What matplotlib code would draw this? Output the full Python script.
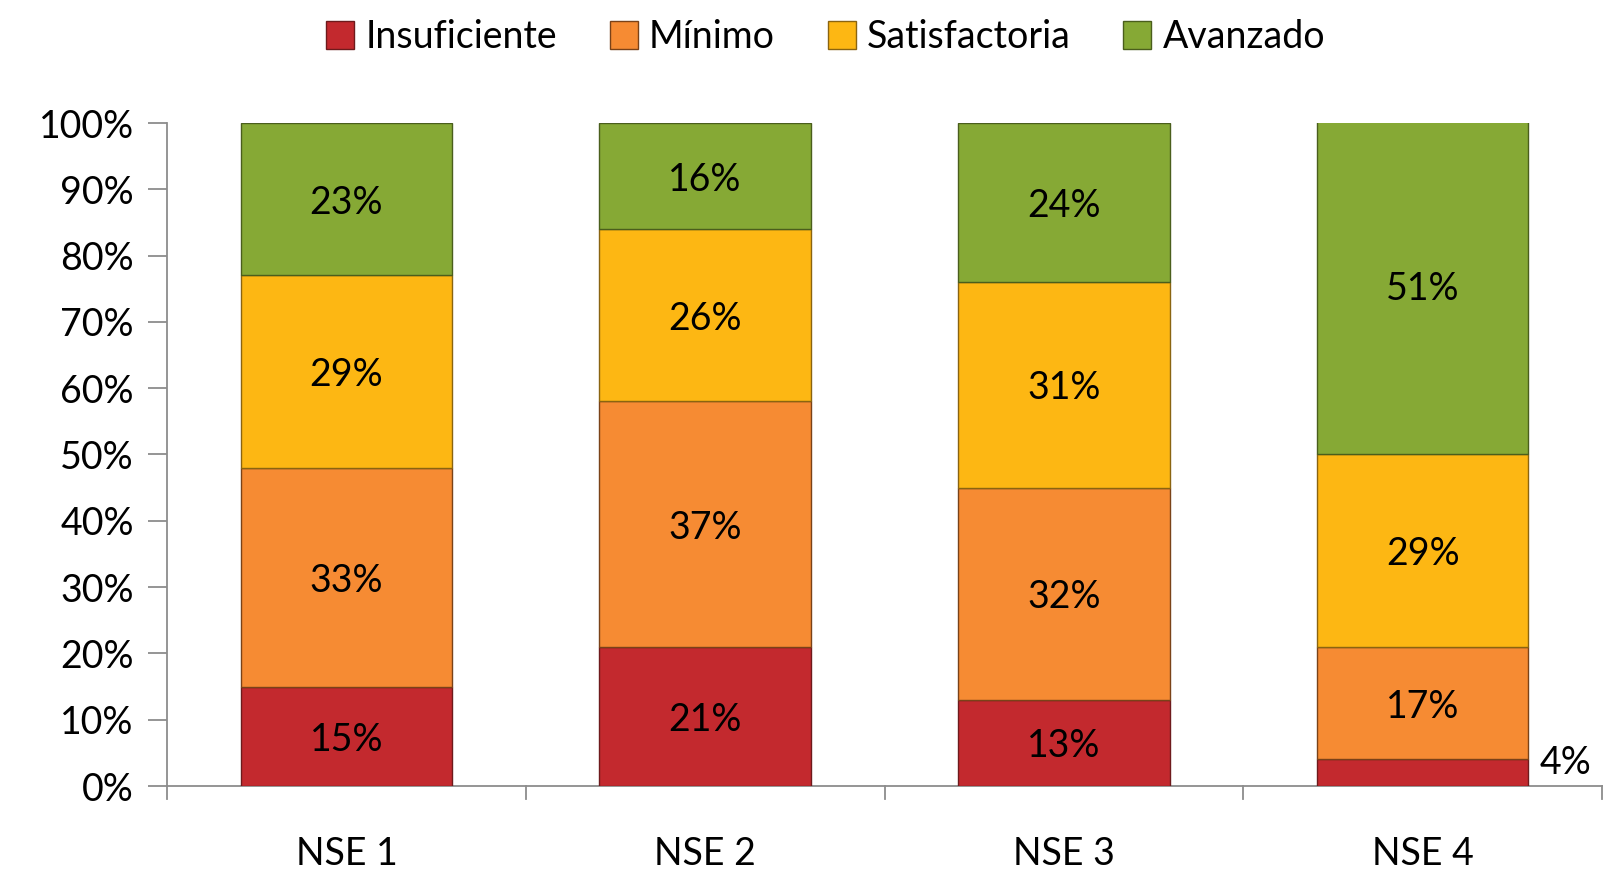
import matplotlib
matplotlib.use("Agg")
import matplotlib.pyplot as plt
import numpy as np

categories = ["NSE 1", "NSE 2", "NSE 3", "NSE 4"]
series_names = ["Insuficiente", "Mínimo", "Satisfactoria", "Avanzado"]
insuficiente = [15, 21, 13, 4]
minimo = [33, 37, 32, 17]
satisfactoria = [29, 26, 31, 29]
avanzado = [23, 16, 24, 51]
y_ticks = [0, 10, 20, 30, 40, 50, 60, 70, 80, 90, 100]

colors = ["#C3292E", "#F68B33", "#FDB713", "#86A935"]
edges = ["#6E1A1C", "#7A4218", "#8A6410", "#4A5E1C"]

plt.rcParams['font.family'] = ['Lato', 'DejaVu Sans']
FS = 27

fig = plt.figure(figsize=(16.19, 8.71), dpi=100)
ax = fig.add_axes([167/1619, 1-786/871, (1602-167)/1619, (786-123)/871])

data = np.array([insuficiente, minimo, satisfactoria, avanzado], dtype=float)
x = np.arange(len(categories))
width = 0.59
bottom = np.zeros(len(categories))
for i, name in enumerate(series_names):
    ax.bar(x, data[i], width, bottom=bottom, color=colors[i], edgecolor=edges[i],
           linewidth=1.0, label=name, zorder=3)
    for j in range(len(categories)):
        lab = f"{int(data[i, j])}%"
        if data[i, j] < 8:
            ax.text(x[j] + width/2 + 0.03, bottom[j] + data[i, j], lab,
                    ha='left', va='center_baseline', fontsize=FS, color='black')
        else:
            ax.text(x[j], bottom[j] + data[i, j]/2, lab, ha='center', va='center_baseline',
                    fontsize=FS, color='black')
    bottom += data[i]

ax.set_xlim(-0.5, 3.5)
ax.set_ylim(0, 100)
ax.set_yticks(y_ticks)
ax.set_yticklabels([f"{t}%" for t in y_ticks], fontsize=FS)
ax.set_xticks(x)
ax.set_xticklabels(categories, fontsize=FS)
ax.tick_params(axis='x', length=0, pad=36)
for b in [-0.5, 0.5, 1.5, 2.5, 3.5]:
    ax.plot([b, b], [0, -2.0], color='#8C8C8C', lw=1.3, clip_on=False, zorder=2)
ax.tick_params(axis='y', length=14, width=1.3, color='#8C8C8C', pad=10)
for s in ['top', 'right']:
    ax.spines[s].set_visible(False)
for s in ['left', 'bottom']:
    ax.spines[s].set_color('#8C8C8C')
    ax.spines[s].set_linewidth(1.3)

leg = fig.legend(loc='center', bbox_to_anchor=(0.51, 1-37/871), ncol=4, frameon=False,
                 fontsize=FS, handlelength=0.75, handleheight=0.75, handletextpad=0.3,
                 columnspacing=1.4)

fig.savefig("out.png", dpi=100)
